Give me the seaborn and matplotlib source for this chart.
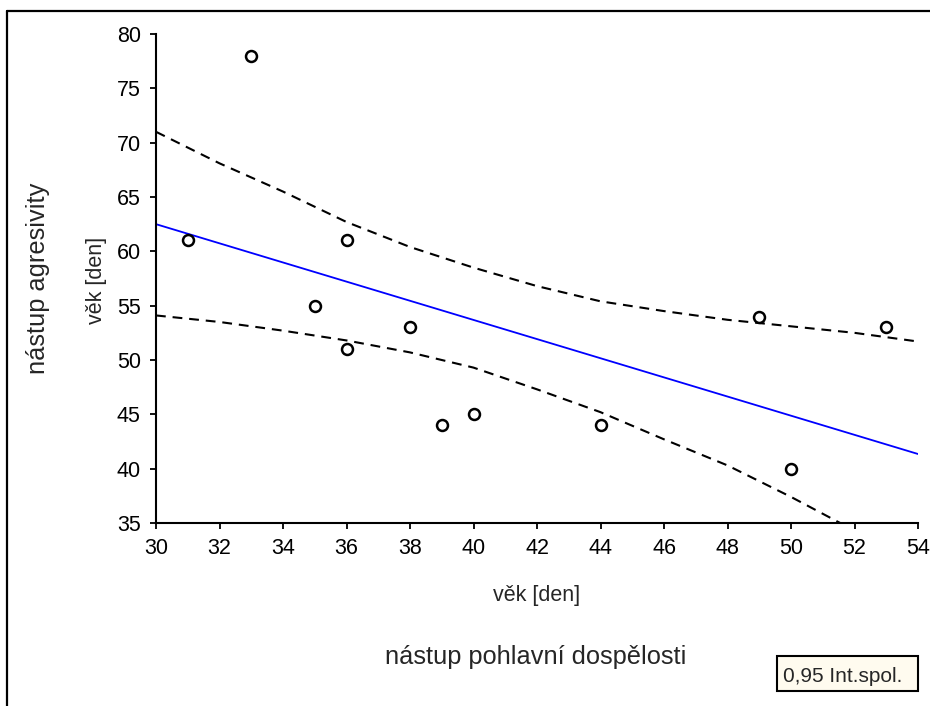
import matplotlib
matplotlib.use("Agg")
import matplotlib.pyplot as plt
from matplotlib.lines import Line2D
from matplotlib.patches import Rectangle
import seaborn as sns
import pandas as pd

# ---- data ----
puberty_age = [31, 33, 35, 36, 36, 38, 39, 40, 44, 49, 50, 53]
aggression_age = [61, 78, 55, 61, 51, 53, 44, 45, 44, 54, 40, 53]

fit_x = [30, 54]
fit_y = [62.5, 41.35]

band_x = [30, 32, 34, 36, 38, 40, 42, 44, 46, 48, 50, 52, 54]
band_upper = [71.0, 68.1, 65.5, 62.7, 60.4, 58.5, 56.8, 55.4, 54.5, 53.7, 53.1, 52.5, 51.7]
band_lower = [54.1, 53.5, 52.7, 51.8, 50.7, 49.3, 47.3, 45.2, 42.7, 40.3, 37.4, 34.3, 31.0]

x_ticks = [30, 32, 34, 36, 38, 40, 42, 44, 46, 48, 50, 52, 54]
y_ticks = [35, 40, 45, 50, 55, 60, 65, 70, 75, 80]

sns.set_theme(style="white")
plt.rcParams['font.family'] = ['Liberation Sans', 'DejaVu Sans']

fig = plt.figure(figsize=(9.3, 7.06), dpi=100)
ax = fig.add_axes([156 / 930, 1 - 523 / 706, (918 - 156) / 930, (523 - 34) / 706])

pts = pd.DataFrame({"x": puberty_age, "y": aggression_age})
fit = pd.DataFrame({"x": fit_x, "y": fit_y})
up = pd.DataFrame({"x": band_x, "y": band_upper})
lo = pd.DataFrame({"x": band_x, "y": band_lower})

sns.lineplot(data=up, x="x", y="y", ax=ax, color="black", lw=1.5,
             linestyle=(0, (4.7, 3.3)), sort=True)
sns.lineplot(data=lo, x="x", y="y", ax=ax, color="black", lw=1.5,
             linestyle=(0, (4.7, 3.3)), sort=True)
sns.lineplot(data=fit, x="x", y="y", ax=ax, color="#0000FF", lw=1.3)
sns.scatterplot(data=pts, x="x", y="y", ax=ax, s=62, facecolor="white",
                edgecolor="black", linewidth=1.8, zorder=5)

ax.set_xlim(30, 54)
ax.set_ylim(35, 80)
ax.set_xticks(x_ticks)
ax.set_yticks(y_ticks)
ax.set_xlabel("")
ax.set_ylabel("")
for s in ["top", "right"]:
    ax.spines[s].set_visible(False)
for s in ["left", "bottom"]:
    ax.spines[s].set_color("black")
    ax.spines[s].set_linewidth(1.5)
ax.tick_params(axis="both", which="major", direction="out", length=4, width=1.3,
               color="black", labelsize=15.5, labelcolor="black", bottom=True, left=True)
ax.tick_params(axis="x", pad=7)
ax.tick_params(axis="y", pad=7)
ax.grid(False)

# axis titles
fig.text(537 / 930, 1 - 595 / 706, "věk [den]", ha="center", va="center", fontsize=15.5)
fig.text(536 / 930, 1 - 657 / 706, "nástup pohlavní dospělosti", ha="center", va="center", fontsize=18.3)
fig.text(96 / 930, 1 - 280 / 706, "věk [den]", ha="center", va="center", fontsize=15.5, rotation=90)
fig.text(38 / 930, 1 - 278 / 706, "nástup agresivity", ha="center", va="center", fontsize=18.3, rotation=90)

# legend-like box
fig.add_artist(Rectangle((777 / 930, 1 - 690.5 / 706), 141 / 930, 34.5 / 706,
                         transform=fig.transFigure, facecolor="#FFFBEF",
                         edgecolor="black", linewidth=1.5))
fig.text(902 / 930, 1 - 682.5 / 706, "0,95 Int.spol.", ha="right", va="baseline", fontsize=15)

# frame
fig.add_artist(Line2D([7 / 930, 1.0], [1 - 11 / 706, 1 - 11 / 706], transform=fig.transFigure,
                      color="black", lw=1.6))
fig.add_artist(Line2D([7 / 930, 7 / 930], [0.0, 1 - 11 / 706], transform=fig.transFigure,
                      color="black", lw=1.6))

fig.savefig("out.png", dpi=100, facecolor="white")
